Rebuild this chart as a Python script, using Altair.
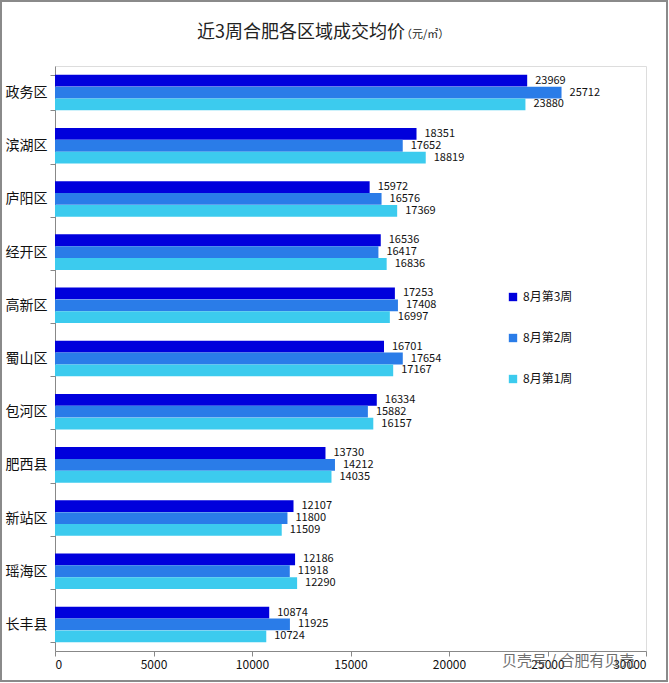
import altair as alt
import pandas as pd

districts = ["政务区", "滨湖区", "庐阳区", "经开区", "高新区", "蜀山区", "包河区", "肥西县", "新站区", "瑶海区", "长丰县"]
series = ["8月第3周", "8月第2周", "8月第1周"]
week3 = [23969, 18351, 15972, 16536, 17253, 16701, 16334, 13730, 12107, 12186, 10874]
week2 = [25712, 17652, 16576, 16417, 17408, 17654, 15882, 14212, 11800, 11918, 11925]
week1 = [23880, 18819, 17369, 16836, 16997, 17167, 16157, 14035, 11509, 12290, 10724]
colors = ["#0000dc", "#2a7ce8", "#3ccbee"]
x_ticks = [0, 5000, 10000, 15000, 20000, 25000, 30000]

rows = []
for i, d in enumerate(districts):
    for s, vals in zip(series, [week3, week2, week1]):
        rows.append({"区域": d, "周": s, "均价": vals[i]})
df = pd.DataFrame(rows)

FONT = "Noto Sans CJK SC"
W, H = 591, 585

y_enc = alt.Y("区域:N", sort=districts, title=None,
              scale=alt.Scale(paddingInner=0.33, paddingOuter=0.165),
              axis=alt.Axis(tickBand="extent", labelFontSize=14, labelColor="#111",
                            labelFont=FONT, labelPadding=3, tickSize=5,
                            domainColor="#888", tickColor="#888", labelAngle=0))
x_enc = alt.X("均价:Q", title=None,
              scale=alt.Scale(domain=[0, 30000], nice=False),
              axis=alt.Axis(values=x_ticks, grid=False, labelFontSize=12, labelColor="#111",
                            labelFont=FONT, tickSize=5, domainColor="#888",
                            tickColor="#888", labelPadding=3, format="d"))
yoff = alt.YOffset("周:N", sort=series, scale=alt.Scale(paddingInner=0, paddingOuter=0))

base = alt.Chart(df)

bars = base.mark_bar(size=11.8).encode(
    x=x_enc, y=y_enc, yOffset=yoff,
    color=alt.Color("周:N", sort=series,
                    scale=alt.Scale(domain=series, range=colors),
                    legend=alt.Legend(title=None, orient="none", legendX=452, legendY=225,
                                      symbolType="square", symbolSize=70, labelFontSize=12,
                                      labelFont=FONT, labelColor="#111", rowPadding=29,
                                      symbolStrokeWidth=0)),
)

labels = base.mark_text(align="left", baseline="middle", dx=8, fontSize=11,
                        font=FONT, color="#111").encode(
    x="均价:Q", y=alt.Y("区域:N", sort=districts), yOffset=yoff,
    text=alt.Text("均价:Q", format="d"),
)

title_df = pd.DataFrame({"t": ["近3周合肥各区域成交均价"]})
title = alt.Chart(title_df).mark_text(align="left", baseline="middle", fontSize=18,
                                      font=FONT, color="#222").encode(
    x=alt.value(142), y=alt.value(-33), text="t:N")
unit_df = pd.DataFrame({"t": ["（元/㎡）"]})
unit = alt.Chart(unit_df).mark_text(align="left", baseline="middle", fontSize=11,
                                    font=FONT, color="#222").encode(
    x=alt.value(346), y=alt.value(-31), text="t:N")
wm_df = pd.DataFrame({"t": ["贝壳号 / 合肥有贝壳"]})
wm = alt.Chart(wm_df).mark_text(align="left", baseline="middle", fontSize=15,
                                font=FONT, color="#555", opacity=0.85).encode(
    x=alt.value(447), y=alt.value(595), text="t:N")
frame = alt.Chart(title_df).mark_rect(fill=None, stroke="#8a8a8a", strokeWidth=2).encode(
    x=alt.value(-54), x2=alt.value(612), y=alt.value(-65), y2=alt.value(615))

chart = alt.layer(frame, bars, labels, title, unit, wm).properties(
    width=W, height=H,
    autosize=alt.AutoSizeParams(type="none"),
    padding={"left": 55, "top": 66, "right": 23, "bottom": 32},
).configure_view(stroke=None).configure(background="white")

chart.save("out.html", embed_options={"renderer": "svg", "actions": False})
